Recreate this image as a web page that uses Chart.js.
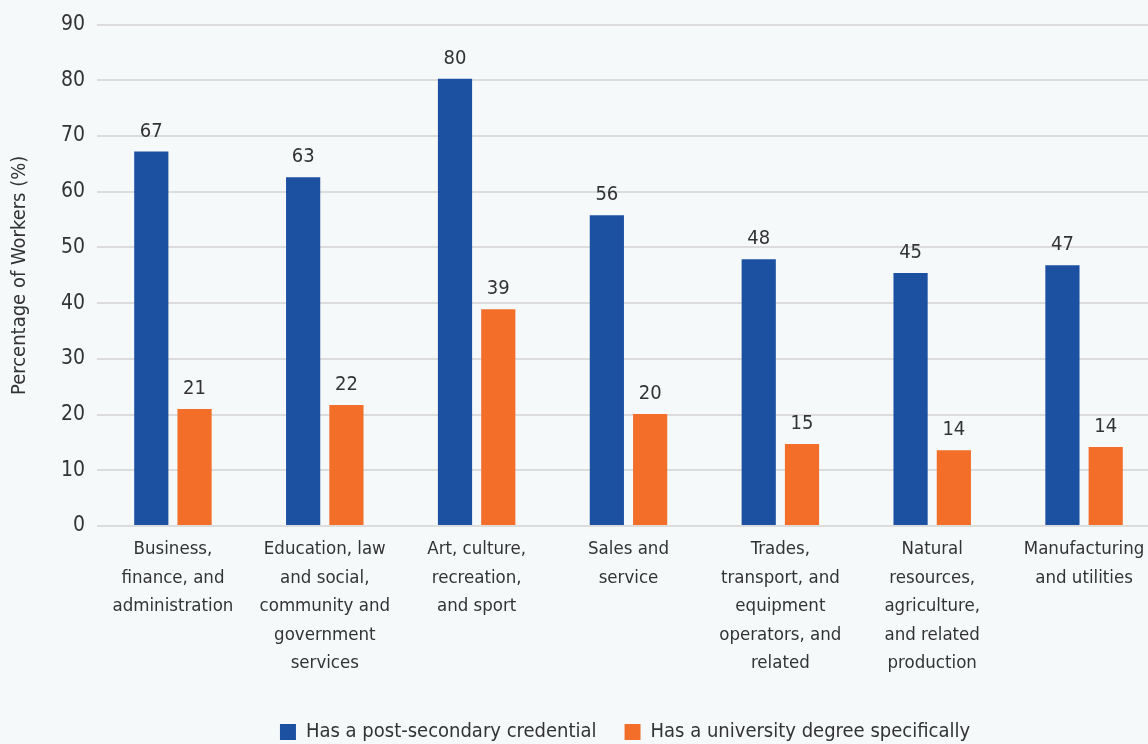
<!DOCTYPE html>
<html>
<head>
<meta charset="utf-8">
<script src="https://cdn.jsdelivr.net/npm/chart.js@4.4.1/dist/chart.umd.min.js"></script>
<style>
  html, body { margin: 0; padding: 0; background: #f5f9fa; overflow: hidden; }
  #wrap { position: relative; width: 1160px; height: 744px; }
</style>
</head>
<body>
<div id="wrap"><canvas id="myChart"></canvas></div>
<script>
// Chart data
const categories = [
    ['Business,', 'finance, and', 'administration'],
    ['Education, law', 'and social,', 'community and', 'government', 'services'],
    ['Art, culture,', 'recreation,', 'and sport'],
    ['Sales and', 'service'],
    ['Trades,', 'transport, and', 'equipment', 'operators, and', 'related'],
    ['Natural', 'resources,', 'agriculture,', 'and related', 'production'],
    ['Manufacturing', 'and utilities']
];
const postSecondary = [67.2, 62.6, 80.3, 55.8, 47.9, 45.4, 46.8];
const universityDegree = [21.0, 21.7, 38.9, 20.1, 14.7, 13.6, 14.2];
const seriesNames = ['Has a post-secondary credential', 'Has a university degree specifically'];

const FONT = "'Liberation Sans Narrow', 'DejaVu Sans Condensed', 'Roboto', sans-serif";
const TEXT = '#333333';

// draws the rounded value above each bar
const barLabels = {
    id: 'barLabels',
    afterDatasetsDraw(chart) {
        const ctx = chart.ctx;
        ctx.save();
        ctx.font = '20px ' + FONT;
        ctx.fillStyle = TEXT;
        ctx.textAlign = 'center';
        ctx.textBaseline = 'bottom';
        chart.data.datasets.forEach((ds, i) => {
            chart.getDatasetMeta(i).data.forEach((bar, j) => {
                ctx.fillText(Math.round(ds.data[j]), bar.x, bar.y - 10);
            });
        });
        ctx.restore();
    }
};

// legend sits a little right of the canvas centre and lower down
const shiftLegend = {
    id: 'shiftLegend',
    afterLayout(chart) {
        const lg = chart.legend;
        lg.left += 45;
        lg.right += 45;
        lg.top += 18;
        lg.bottom += 18;
    }
};

const ctx = document.getElementById('myChart').getContext('2d');
const myChart = new Chart(ctx, {
    type: 'bar',
    data: {
        labels: categories,
        datasets: [{
            label: seriesNames[0],
            data: postSecondary,
            backgroundColor: '#1c50a1',
            categoryPercentage: 0.57,
            barPercentage: 0.79
        }, {
            label: seriesNames[1],
            data: universityDegree,
            backgroundColor: '#f26e29',
            categoryPercentage: 0.57,
            barPercentage: 0.79
        }]
    },
    options: {
        responsive: true,
        maintainAspectRatio: false,
        animation: false,
        layout: { padding: { top: 10, right: 0, left: 0, bottom: 10 } },
        plugins: {
            tooltip: { enabled: false },
            legend: {
                position: 'bottom',
                labels: {
                    color: TEXT,
                    font: { family: FONT, size: 20 },
                    boxWidth: 16,
                    boxHeight: 16,
                    padding: 28
                }
            }
        },
        scales: {
            x: {
                grid: { display: false },
                border: { display: false },
                ticks: {
                    color: TEXT,
                    font: { family: FONT, size: 18.5, lineHeight: 1.54 },
                    maxRotation: 0,
                    autoSkip: false,
                    padding: 1
                },
                afterFit(scale) { scale.height = 150; }
            },
            y: {
                min: 0,
                max: 90,
                ticks: {
                    stepSize: 10,
                    color: TEXT,
                    font: { family: FONT, size: 21 },
                    padding: 12
                },
                grid: { color: '#dcdcdc', lineWidth: 2, drawTicks: false },
                border: { display: false },
                title: {
                    display: true,
                    text: 'Percentage of Workers (%)',
                    color: TEXT,
                    font: { family: FONT, size: 20 },
                    padding: { top: 8, bottom: 0 }
                },
                afterFit(scale) { scale.width = 97; }
            }
        }
    },
    plugins: [barLabels, shiftLegend]
});
</script>
</body>
</html>
